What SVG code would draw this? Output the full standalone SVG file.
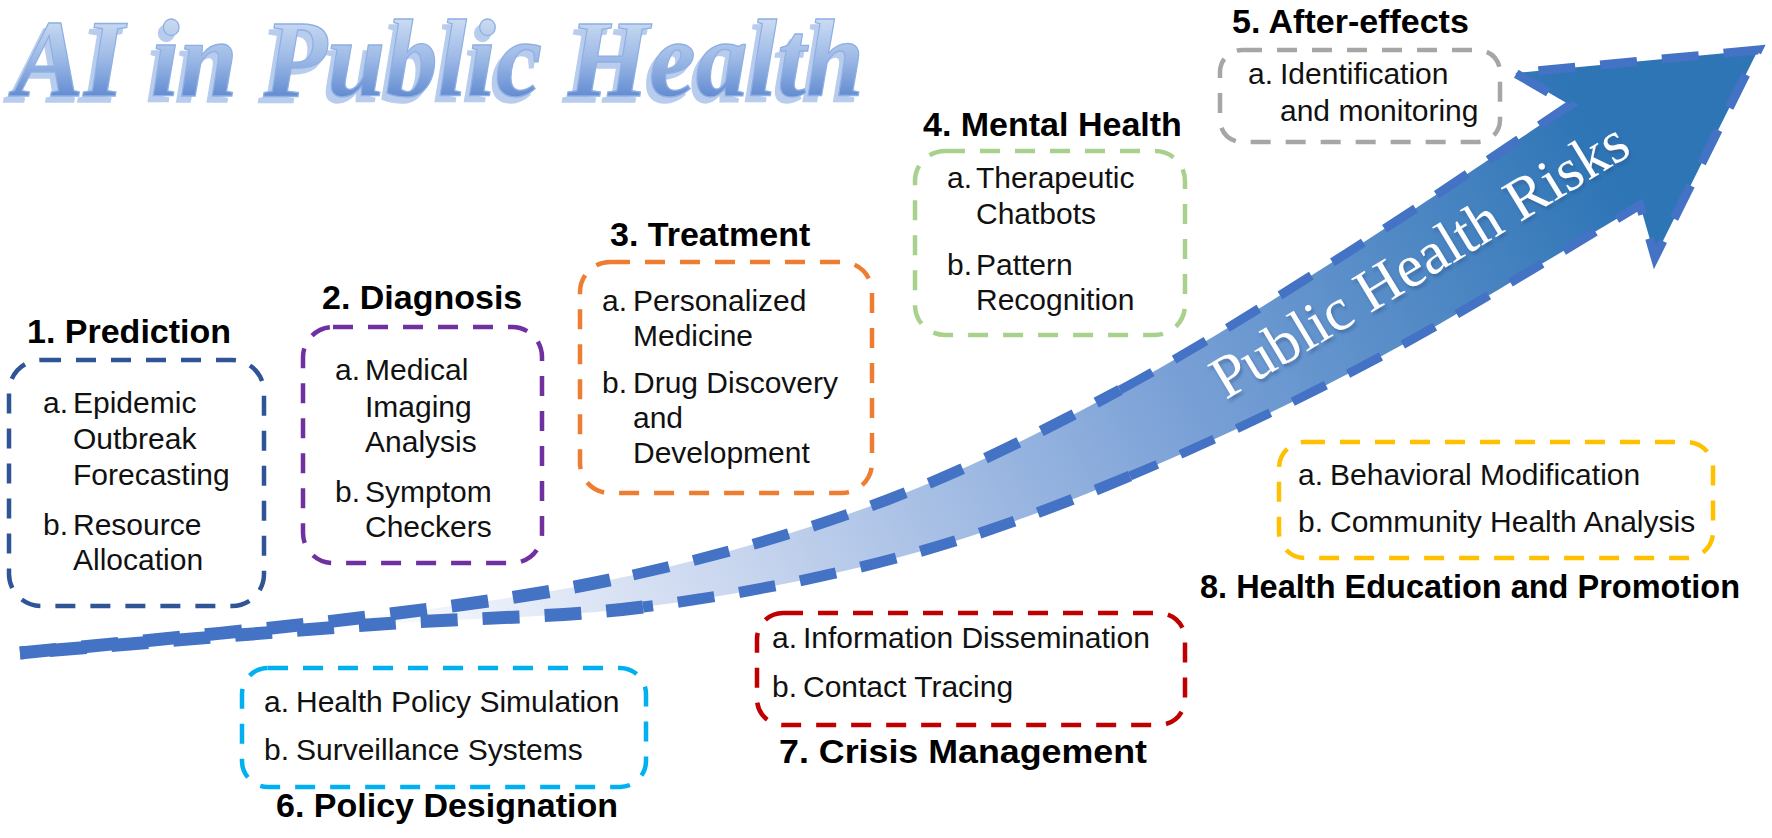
<svg xmlns="http://www.w3.org/2000/svg" width="1772" height="838" viewBox="0 0 1772 838">
<defs>
<linearGradient id="arrowFill" gradientUnits="userSpaceOnUse" x1="350" y1="660" x2="1560" y2="70">
<stop offset="0" stop-color="#ffffff"/>
<stop offset="0.3" stop-color="#c6d4ee"/>
<stop offset="0.62" stop-color="#7ea3d8"/>
<stop offset="1" stop-color="#2e75b6"/>
</linearGradient>
<linearGradient id="titleFill" x1="0" y1="0" x2="0" y2="1">
<stop offset="0" stop-color="#e3ecf8"/>
<stop offset="0.5" stop-color="#9cb9e6"/>
<stop offset="1" stop-color="#3f6fc4"/>
</linearGradient>
<filter id="titleShadow" x="-5%" y="-20%" width="110%" height="150%">
<feOffset in="SourceAlpha" dx="-5" dy="6" result="off"/>
<feFlood flood-color="#b8cdee"/>
<feComposite in2="off" operator="in" result="sh"/>
<feMerge><feMergeNode in="sh"/><feMergeNode in="SourceGraphic"/></feMerge>
</filter>
<filter id="riskShadow" x="-10%" y="-10%" width="120%" height="130%">
<feDropShadow dx="2" dy="3" stdDeviation="1.5" flood-color="#2f4f80" flood-opacity="0.45"/>
</filter>
<path id="riskPath" d="M1226,400 Q1430,278 1655,140"/>
</defs>
<style>
.h{font-family:"Liberation Sans",Arial,sans-serif;font-weight:bold;font-size:34px;fill:#000}
.t{font-family:"Liberation Sans",Arial,sans-serif;font-size:30px;fill:#111}
.box{fill:none;stroke-width:4.5;stroke-dasharray:20 15}
.edge{fill:none;stroke:#4472c4;stroke-dasharray:37 25;stroke-linejoin:miter}
.title{font-family:"Liberation Serif","Times New Roman",serif;font-style:italic;font-weight:bold;font-size:110px}
</style>
<rect width="1772" height="838" fill="#ffffff"/>

<g id="title">
<text class="title" x="14" y="96" textLength="850" lengthAdjust="spacingAndGlyphs" fill="url(#titleFill)" stroke="#8fb0e2" stroke-width="1.3" filter="url(#titleShadow)">AI in Public Health</text>
</g>

<g id="trend-arrow">
<path d="M20,653 C77.8,647 264.8,630 367,617 C469.2,604 546.3,594.5 633,575 C719.7,555.5 805.8,530.8 887,500 C968.2,469.2 1043.3,431.2 1120,390 C1196.7,348.8 1272,300.5 1347,253 C1422,205.5 1532.8,129.7 1570,105 L1515,73 L1758,50 L1655,257 L1640,205 C1596.7,230.3 1465,311.8 1380,357 C1295,402.2 1210,442.7 1130,476 C1050,509.3 981.2,535.2 900,557 C818.8,578.8 731.8,595.7 643,607 C554.2,618.3 470.8,617.3 367,625 C263.2,632.7 77.8,648.3 20,653 Z" fill="url(#arrowFill)"/>
<path class="edge" stroke-width="13" d="M20,653 C77.8,647 264.8,630 367,617 C469.2,604 546.3,594.5 633,575"/>
<path class="edge" stroke-width="11" d="M633,575 C719.7,555.5 805.8,530.8 887,500 C968.2,469.2 1043.3,431.2 1120,390"/>
<path class="edge" stroke-width="9" d="M1120,390 C1196.7,348.8 1272,300.5 1347,253 C1422,205.5 1532.8,129.7 1570,105 L1515,73 L1758,50 L1655,257 L1640,205 C1596.7,230.3 1465,311.8 1380,357 C1295,402.2 1210,442.7 1130,476"/>
<path class="edge" stroke-width="11" d="M1130,476 C1050,509.3 981.2,535.2 900,557 C818.8,578.8 731.8,595.7 643,607"/>
<path class="edge" stroke-width="13" d="M643,607 C554.2,618.3 470.8,617.3 367,625 C263.2,632.7 77.8,648.3 20,653"/>
<text font-family="'Liberation Serif','Times New Roman',serif" font-size="60" fill="#ffffff" filter="url(#riskShadow)"><textPath href="#riskPath">Public Health Risks</textPath></text>
</g>

<g id="node-1">
<rect class="box" x="9" y="360" width="255" height="246" rx="32" stroke="#2f5597"/>
<text class="h" x="27" y="343">1. Prediction</text>
<text class="t" x="43" y="413">a.</text><text class="t" x="73" y="413">Epidemic</text>
<text class="t" x="73" y="449">Outbreak</text>
<text class="t" x="73" y="485">Forecasting</text>
<text class="t" x="43" y="535">b.</text><text class="t" x="73" y="535">Resource</text>
<text class="t" x="73" y="570">Allocation</text>
</g>

<g id="node-2">
<rect class="box" x="303" y="327" width="239" height="236" rx="30" stroke="#7030a0"/>
<text class="h" x="322" y="309">2. Diagnosis</text>
<text class="t" x="335" y="380">a.</text><text class="t" x="365" y="380">Medical</text>
<text class="t" x="365" y="417">Imaging</text>
<text class="t" x="365" y="452">Analysis</text>
<text class="t" x="335" y="502">b.</text><text class="t" x="365" y="502">Symptom</text>
<text class="t" x="365" y="537">Checkers</text>
</g>

<g id="node-3">
<rect class="box" x="580" y="262" width="292" height="231" rx="30" stroke="#ed7d31"/>
<text class="h" x="610" y="246">3. Treatment</text>
<text class="t" x="602" y="311">a.</text><text class="t" x="633" y="311">Personalized</text>
<text class="t" x="633" y="346">Medicine</text>
<text class="t" x="602" y="393">b.</text><text class="t" x="633" y="393">Drug Discovery</text>
<text class="t" x="633" y="428">and</text>
<text class="t" x="633" y="463">Development</text>
</g>

<g id="node-4">
<rect class="box" x="915" y="151" width="270" height="184" rx="30" stroke="#a9d18e"/>
<text class="h" x="923" y="136">4. Mental Health</text>
<text class="t" x="947" y="188">a.</text><text class="t" x="976" y="188">Therapeutic</text>
<text class="t" x="976" y="224">Chatbots</text>
<text class="t" x="947" y="275">b.</text><text class="t" x="976" y="275">Pattern</text>
<text class="t" x="976" y="310">Recognition</text>
</g>

<g id="node-5">
<rect class="box" x="1220" y="50" width="280" height="92" rx="22" stroke="#a6a6a6"/>
<text class="h" x="1232" y="33">5. After-effects</text>
<text class="t" x="1248" y="84">a.</text><text class="t" x="1280" y="84">Identification</text>
<text class="t" x="1280" y="121">and monitoring</text>
</g>

<g id="node-6">
<rect class="box" x="242" y="668" width="404" height="119" rx="26" stroke="#00b0f0"/>
<text class="h" x="276" y="817">6. Policy Designation</text>
<text class="t" x="264" y="712">a.</text><text class="t" x="296" y="712">Health Policy Simulation</text>
<text class="t" x="264" y="760">b.</text><text class="t" x="296" y="760">Surveillance Systems</text>
</g>

<g id="node-7">
<rect class="box" x="757" y="613" width="428" height="112" rx="26" stroke="#c00000"/>
<text class="h" x="779" y="763" textLength="368" lengthAdjust="spacingAndGlyphs">7. Crisis Management</text>
<text class="t" x="772" y="648">a.</text><text class="t" x="803" y="648">Information Dissemination</text>
<text class="t" x="772" y="697">b.</text><text class="t" x="803" y="697">Contact Tracing</text>
</g>

<g id="node-8">
<rect class="box" x="1279" y="442" width="434" height="116" rx="26" stroke="#ffc000"/>
<text class="h" x="1200" y="598" textLength="540" lengthAdjust="spacingAndGlyphs">8. Health Education and Promotion</text>
<text class="t" x="1298" y="485">a.</text><text class="t" x="1330" y="485">Behavioral Modification</text>
<text class="t" x="1298" y="532">b.</text><text class="t" x="1330" y="532">Community Health Analysis</text>
</g>
</svg>
